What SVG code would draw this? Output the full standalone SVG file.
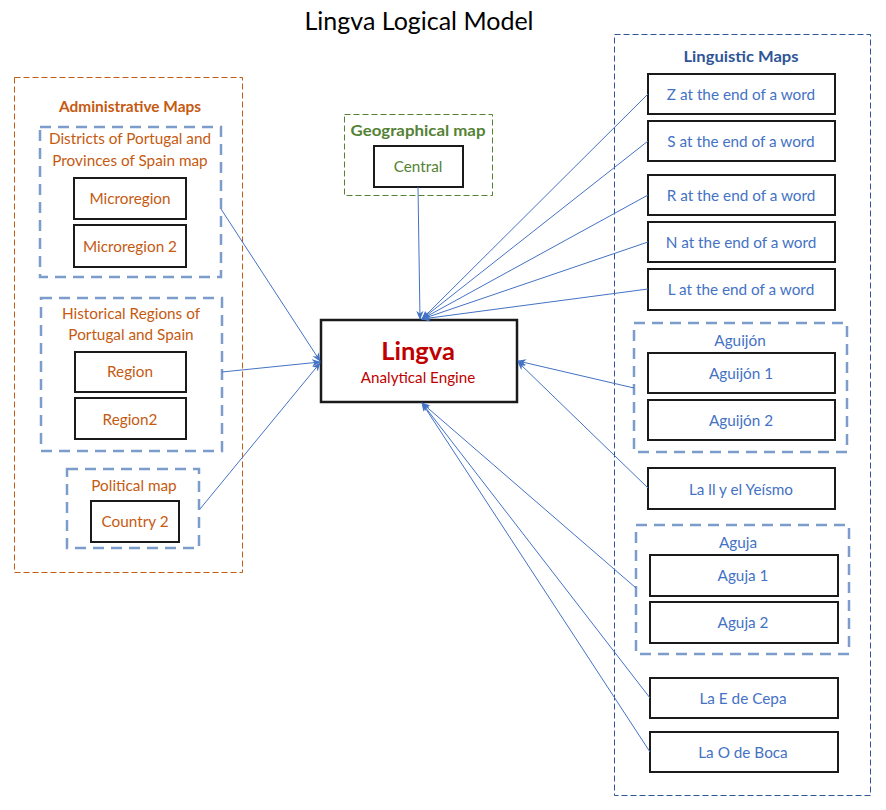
<svg xmlns="http://www.w3.org/2000/svg" width="886" height="810" viewBox="0 0 886 810">
<defs>
<marker id="arr" viewBox="0 0 10 10" refX="9" refY="5" markerWidth="9" markerHeight="9" markerUnits="userSpaceOnUse" orient="auto">
<path d="M0,1 L10,5 L0,9 L3,5 Z" fill="#4472C4"/>
</marker>
</defs>
<style>
text{font-family:Lato,"Noto Sans","Liberation Sans",sans-serif;text-anchor:middle;dominant-baseline:central}
.box{fill:#fff;stroke:#1a1a1a;stroke-width:2}
.grp{fill:none;stroke:#7C9DCB;stroke-width:2.5;stroke-dasharray:11 7}
.or{fill:#C55A11;font-size:15.3px}
.bl{fill:#4472C4;font-size:15.3px}
.gr{fill:#548235;font-size:15.3px}
.hd{font-weight:bold;font-size:16px}
.conn line{stroke:#4472C4;stroke-width:1;marker-end:url(#arr)}
</style>
<rect width="886" height="810" fill="#fff"/>
<text x="419" y="20" style="font-size:25px;fill:#000">Lingva Logical Model</text>

<g id="administrative-maps">
<rect x="14.5" y="77.5" width="228" height="495" fill="none" stroke="#C55A11" stroke-width="1" stroke-dasharray="6 3"/>
<text x="130" y="105" class="or hd" textLength="142" lengthAdjust="spacingAndGlyphs">Administrative Maps</text>
</g>
<g id="districts">
<rect x="40" y="127" width="181" height="150" class="grp"/>
<text x="130" y="138" class="or">Districts of Portugal and</text>
<text x="130" y="160" class="or">Provinces of Spain map</text>
</g>
<g id="microregion"><rect x="74" y="178" width="112" height="41" class="box"/><text x="130" y="198" class="or">Microregion</text></g>
<g id="microregion2"><rect x="74" y="225" width="112" height="42" class="box"/><text x="130" y="246" class="or">Microregion 2</text></g>
<g id="historical">
<rect x="41" y="298" width="181" height="153" class="grp"/>
<text x="131" y="313" class="or">Historical Regions of</text>
<text x="131" y="334" class="or">Portugal and Spain</text>
</g>
<g id="region"><rect x="75" y="352" width="111" height="40" class="box"/><text x="130" y="371" class="or">Region</text></g>
<g id="region2"><rect x="75" y="398" width="111" height="41" class="box"/><text x="130" y="419" class="or">Region2</text></g>
<g id="political">
<rect x="67" y="469" width="132" height="79" class="grp"/>
<text x="134" y="485" class="or">Political map</text>
</g>
<g id="country2"><rect x="91" y="501" width="88" height="41" class="box"/><text x="135" y="521" class="or">Country 2</text></g>

<g id="geographical">
<rect x="344.5" y="114.5" width="148" height="81" fill="none" stroke="#548235" stroke-width="1" stroke-dasharray="6 3"/>
<text x="418" y="129" class="gr hd" textLength="135" lengthAdjust="spacingAndGlyphs">Geographical map</text>
</g>
<g id="central"><rect x="374" y="146" width="89" height="41" class="box"/><text x="418" y="166" class="gr">Central</text></g>

<g id="lingva">
<rect x="321" y="320" width="196" height="82" fill="#fff" stroke="#1a1a1a" stroke-width="2.5"/>
<text x="418" y="350" style="font-weight:bold;font-size:25.5px;fill:#C00000">Lingva</text>
<text x="418" y="377" style="font-size:15.2px;fill:#C00000">Analytical Engine</text>
</g>

<g id="linguistic-maps">
<rect x="614.5" y="34.5" width="256" height="761" fill="none" stroke="#2F5597" stroke-width="1" stroke-dasharray="6 3"/>
<text x="741" y="55" class="hd" style="fill:#2F5597" textLength="115" lengthAdjust="spacingAndGlyphs">Linguistic Maps</text>
</g>
<g id="z"><rect x="648" y="74" width="187" height="40" class="box"/><text x="741" y="94" class="bl">Z at the end of a word</text></g>
<g id="s"><rect x="648" y="121" width="187" height="40" class="box"/><text x="741" y="141" class="bl">S at the end of a word</text></g>
<g id="r"><rect x="648" y="175" width="187" height="40" class="box"/><text x="741" y="195" class="bl">R at the end of a word</text></g>
<g id="n"><rect x="648" y="222" width="187" height="40" class="box"/><text x="741" y="242" class="bl">N at the end of a word</text></g>
<g id="l"><rect x="648" y="269" width="187" height="41" class="box"/><text x="741" y="289" class="bl">L at the end of a word</text></g>
<g id="aguijon">
<rect x="634" y="323" width="213" height="129" class="grp"/>
<text x="740" y="340" class="bl">Aguijón</text>
</g>
<g id="aguijon1"><rect x="648" y="353" width="187" height="40" class="box"/><text x="741" y="373" class="bl">Aguijón 1</text></g>
<g id="aguijon2"><rect x="648" y="400" width="187" height="40" class="box"/><text x="741" y="420" class="bl">Aguijón 2</text></g>
<g id="yeismo"><rect x="648" y="468" width="187" height="41" class="box"/><text x="741" y="489" class="bl">La ll y el Yeísmo</text></g>
<g id="aguja">
<rect x="636" y="525" width="213" height="129" class="grp"/>
<text x="738" y="542" class="bl">Aguja</text>
</g>
<g id="aguja1"><rect x="650" y="555" width="188" height="41" class="box"/><text x="743" y="575" class="bl">Aguja 1</text></g>
<g id="aguja2"><rect x="650" y="602" width="188" height="41" class="box"/><text x="743" y="622" class="bl">Aguja 2</text></g>
<g id="cepa"><rect x="650" y="678" width="188" height="40" class="box"/><text x="743" y="698" class="bl">La E de Cepa</text></g>
<g id="boca"><rect x="650" y="732" width="188" height="40" class="box"/><text x="743" y="752" class="bl">La O de Boca</text></g>

<g id="connectors" class="conn">
<line x1="221" y1="209" x2="320" y2="361"/>
<line x1="222" y1="372" x2="320" y2="362"/>
<line x1="200" y1="509" x2="320" y2="363"/>
<line x1="418" y1="187" x2="420" y2="319"/>
<line x1="648" y1="94" x2="422" y2="319"/>
<line x1="648" y1="141" x2="422" y2="319"/>
<line x1="648" y1="195" x2="422" y2="319"/>
<line x1="648" y1="242" x2="422" y2="319"/>
<line x1="648" y1="289" x2="422" y2="319"/>
<line x1="634" y1="388" x2="518" y2="361"/>
<line x1="648" y1="488" x2="518" y2="362"/>
<line x1="636" y1="588" x2="422" y2="403"/>
<line x1="650" y1="698" x2="422" y2="403"/>
<line x1="650" y1="752" x2="422" y2="403"/>
</g>
</svg>
